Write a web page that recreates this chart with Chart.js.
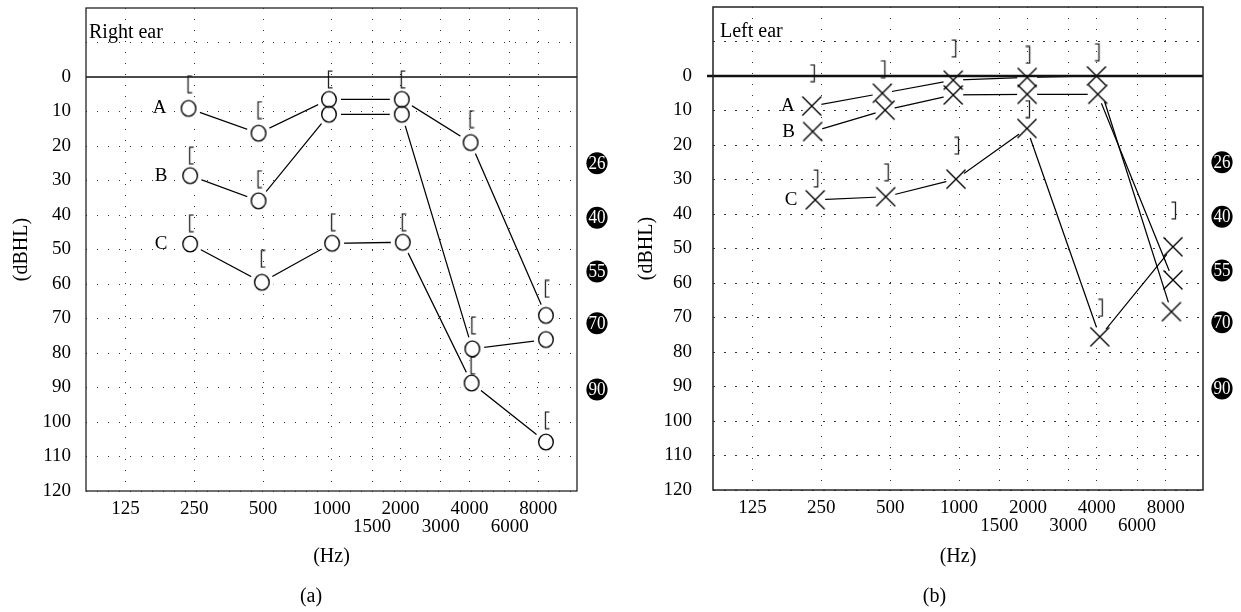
<!DOCTYPE html>
<html><head><meta charset="utf-8">
<script src="https://cdn.jsdelivr.net/npm/chart.js@4.4.1/dist/chart.umd.min.js"></script>
<style>
html,body{margin:0;padding:0;background:#fff;}
#wrap{position:relative;width:1241px;height:612px;background:#fff;}
canvas{position:absolute;top:0;}
#cR{left:0;} #cL{left:620px;}
</style></head><body>
<div id="wrap"><canvas id="cR" width="620" height="612"></canvas><canvas id="cL" width="621" height="612"></canvas></div>
<script>
// ---------- data ----------
const freqTicks = [125, 250, 500, 1000, 1500, 2000, 3000, 4000, 6000, 8000];
const freqTickSecondRow = [false, false, false, false, true, false, true, false, true, false];
const seriesNames = ['A', 'B', 'C'];
const severityLabels = ['26', '40', '55', '70', '90'];
const severityPos = [25, 40.8, 56.4, 71.4, 90.6];

// Right ear (air conduction circles, bone conduction "[")
const rightA_freq = [236, 478, 972, 2024, 4048, 8650];
const rightA_db   = [9.1, 16.3, 6.5, 6.5, 19, 69.1];
const rightA_bone = [2.1, 9.6, 0.7, 0.7, 12.2, 61.4];
const rightB_freq = [240, 478, 972, 2024, 4120, 8650];
const rightB_db   = [28.6, 35.9, 10.8, 10.8, 78.8, 76.1];
const rightB_bone = [22.8, 29.6, null, null, 72, null];
const rightC_freq = [240, 494, 1003, 2045, 4090, 8650];
const rightC_db   = [48.4, 59.5, 48.2, 47.9, 88.7, 105.8];
const rightC_bone = [42.4, 52.7, 42.1, 42.1, 83.6, 99.5];

// Left ear (air conduction crosses, bone conduction "]")
const leftA_freq = [227, 462, 943, 1984, 3986, 8474];
const leftA_db   = [8.7, 5.0, 1.2, 0.4, 0, 68.3];
const leftA_bone = [-0.8, -2, -8, -6.1, -6.9, null];
const leftB_freq = [229, 475, 943, 1984, 4040, 8610];
const leftB_db   = [16.1, 9.9, 5.5, 5.3, 5.3, 59.1];
const leftB_bone = null;
const leftC_freq = [235, 478, 969, 1980, 4122, 8610];
const leftC_db   = [35.9, 35.0, 29.9, 15.2, 75.6, 49.5];
const leftC_bone = [29.7, 27.9, 20.2, 9.6, 67.2, 39];

// ---------- helpers ----------
const FONT = "'Liberation Serif', 'Times New Roman', serif";
Chart.defaults.font.family = FONT;
Chart.defaults.color = '#000';

function mk(w, h, draw) { const c = document.createElement('canvas'); c.width = w; c.height = h; draw(c.getContext('2d')); return c; }
const circleImg = mk(18, 20, g => { g.strokeStyle = '#000'; g.lineWidth = 1.4; g.beginPath(); g.ellipse(9, 10, 7.3, 7.9, 0, 0, Math.PI * 2); g.stroke(); });
const crossImg = mk(22, 22, g => { g.strokeStyle = '#000'; g.lineWidth = 1.35; g.beginPath(); g.moveTo(1.5, 1.5); g.lineTo(20.5, 20.5); g.moveTo(20.5, 1.5); g.lineTo(1.5, 20.5); g.stroke(); });
const openBracketImg = mk(10, 19, g => { g.strokeStyle = '#222'; g.lineWidth = 1.3; g.beginPath(); g.moveTo(8.5, 1.2); g.lineTo(4.5, 1.2); g.lineTo(4.5, 17.8); g.lineTo(8.5, 17.8); g.stroke(); });
const closeBracketImg = mk(14, 19, g => { g.strokeStyle = '#222'; g.lineWidth = 1.3; g.beginPath(); g.moveTo(5.5, 1.2); g.lineTo(9.5, 1.2); g.lineTo(9.5, 17.8); g.lineTo(5.5, 17.8); g.stroke(); });

function pts(xs, ys) { const out = []; if (!ys) return out; for (let i = 0; i < xs.length; i++) { if (ys[i] !== null) out.push({ x: xs[i], y: ys[i] }); } return out; }

const decor = {
  id: 'decor',
  afterDatasetsDraw(chart, args, o) {
    const { ctx, chartArea: a, scales: { x, y } } = chart;
    ctx.save();
    ctx.strokeStyle = '#111';
    ctx.lineWidth = o.zeroWidth;
    const y0 = y.getPixelForValue(0);
    ctx.beginPath(); ctx.moveTo(a.left - o.zeroExtend, y0); ctx.lineTo(a.right, y0); ctx.stroke();
    ctx.lineWidth = o.boxWidth;
    ctx.strokeStyle = '#222';
    ctx.strokeRect(a.left, a.top, a.right - a.left, a.bottom - a.top);
    ctx.fillStyle = '#000';
    ctx.font = '20px ' + FONT; ctx.textAlign = 'left'; ctx.textBaseline = 'alphabetic';
    ctx.fillText(o.title, a.left + o.titleDx, a.top + 30);
    ctx.font = '19px ' + FONT; ctx.textAlign = 'center'; ctx.textBaseline = 'middle';
    o.series.forEach((s, i) => ctx.fillText(seriesNames[i], x.getPixelForValue(s.freq[0]) + o.labelDx, y.getPixelForValue(s.db[0])));
    severityLabels.forEach((t, i) => {
      const cy = y.getPixelForValue(severityPos[i]);
      const cx = a.right + o.sevDx;
      ctx.fillStyle = '#000';
      ctx.beginPath(); ctx.ellipse(cx, cy, 10.6, 11, 0, 0, Math.PI * 2); ctx.fill();
      ctx.fillStyle = '#fff';
      ctx.save(); ctx.translate(cx, cy); ctx.scale(0.95, 1);
      ctx.font = '18px ' + FONT; ctx.textAlign = 'center'; ctx.textBaseline = 'middle';
      ctx.fillText(t, 0, 1); ctx.restore();
    });
    ctx.fillStyle = '#000';
    ctx.font = '20px ' + FONT; ctx.textAlign = 'center'; ctx.textBaseline = 'middle';
    ctx.fillText(o.panel, chart.width / 2 + o.panelDx, 597);
    ctx.restore();
  }
};

function buildChart(canvas, ear) {
  const datasets = [];
  ear.series.forEach(s => {
    datasets.push({ data: pts(s.freq, s.db), showLine: true, borderColor: '#000', borderWidth: 1.25, pointRadius: 0, tension: 0, order: 3 });
  });
  datasets.push({ data: [].concat(...ear.series.map(s => pts(s.freq, s.db))), showLine: false, pointStyle: 'circle', pointRadius: ear.halo, pointBackgroundColor: '#fff', pointBorderWidth: 0, pointBorderColor: 'rgba(0,0,0,0)', order: 2 });
  ear.series.forEach(s => {
    datasets.push({ data: pts(s.freq, s.db), showLine: false, pointStyle: ear.markerImg, pointRadius: 8, order: 1 });
    if (s.bone) datasets.push({ data: pts(s.freq, s.bone), showLine: false, pointStyle: ear.boneImg, pointRadius: 8, order: 1 });
  });
  return new Chart(canvas, {
    type: 'scatter',
    data: { datasets },
    plugins: [decor],
    options: {
      responsive: false, animation: false, devicePixelRatio: 1, events: [],
      layout: { autoPadding: false, padding: { left: 0, top: ear.top, right: ear.padRight, bottom: 0 } },
      plugins: {
        legend: { display: false }, tooltip: { enabled: false },
        decor: {
          zeroWidth: ear.zeroWidth, zeroExtend: ear.zeroExtend, boxWidth: ear.boxWidth,
          title: ear.title, titleDx: ear.titleDx, series: ear.series, labelDx: ear.labelDx,
          sevDx: ear.sevDx, panel: ear.panel, panelDx: ear.panelDx
        }
      },
      scales: {
        x: {
          type: 'logarithmic', min: ear.xmin, max: ear.xmax,
          afterBuildTicks: s => { s.ticks = freqTicks.map(v => ({ value: v })); },
          afterFit: s => { s.height = ear.xAxisH; s.paddingLeft = 0; s.paddingRight = 0; },
          grid: { color: '#333', lineWidth: 1, drawTicks: false },
          border: { display: false, dash: [1, 10] },
          ticks: {
            autoSkip: false, maxRotation: 0, minRotation: 0, padding: 9, color: '#000',
            font: { size: 19, lineHeight: 0.95 },
            callback: (v, i) => freqTickSecondRow[i] ? ['', String(freqTicks[i])] : String(freqTicks[i])
          },
          title: { display: true, text: '(Hz)', color: '#000', font: { size: 20 }, padding: { top: 0, bottom: 43 } }
        },
        y: {
          type: 'linear', reverse: true, min: -20, max: 120,
          afterFit: s => { s.width = ear.yAxisW; s.paddingTop = 0; s.paddingBottom = 0; },
          grid: { color: c => (c.tick && (c.tick.value === 0 || c.tick.value === -20)) ? 'rgba(0,0,0,0)' : '#333', lineWidth: 1, drawTicks: false },
          border: { display: false, dash: ear.hDash },
          ticks: { stepSize: 10, autoSkip: false, padding: ear.yPad, color: '#000', font: { size: 19 }, callback: v => v < 0 ? '' : String(v) },
          title: { display: true, text: '(dBHL)', color: '#000', font: { size: 20 }, padding: { top: ear.yTitlePad, bottom: 0 } }
        }
      }
    }
  });
}

buildChart(document.getElementById('cR'), {
  series: [
    { freq: rightA_freq, db: rightA_db, bone: rightA_bone },
    { freq: rightB_freq, db: rightB_db, bone: rightB_bone },
    { freq: rightC_freq, db: rightC_db, bone: rightC_bone }
  ],
  markerImg: circleImg, boneImg: openBracketImg, halo: 12, hDash: [1, 10],
  top: 8, xAxisH: 121, yAxisW: 86, padRight: 43, yPad: 15, yTitlePad: 10,
  xmin: 84, xmax: 11830, zeroWidth: 1.3, zeroExtend: 0, boxWidth: 1.3,
  title: 'Right ear', titleDx: 3, labelDx: -29, sevDx: 20, panel: '(a)', panelDx: 1
});

buildChart(document.getElementById('cL'), {
  series: [
    { freq: leftA_freq, db: leftA_db, bone: leftA_bone },
    { freq: leftB_freq, db: leftB_db, bone: leftB_bone },
    { freq: leftC_freq, db: leftC_db, bone: leftC_bone }
  ],
  markerImg: crossImg, boneImg: closeBracketImg, halo: 10, hDash: [2, 9],
  top: 7, xAxisH: 122, yAxisW: 93, padRight: 38, yPad: 21, yTitlePad: 15,
  xmin: 84, xmax: 11650, zeroWidth: 2.6, zeroExtend: 6, boxWidth: 1.5,
  title: 'Left ear', titleDx: 7, labelDx: -24, sevDx: 19, panel: '(b)', panelDx: 4
});
</script>
</body></html>
